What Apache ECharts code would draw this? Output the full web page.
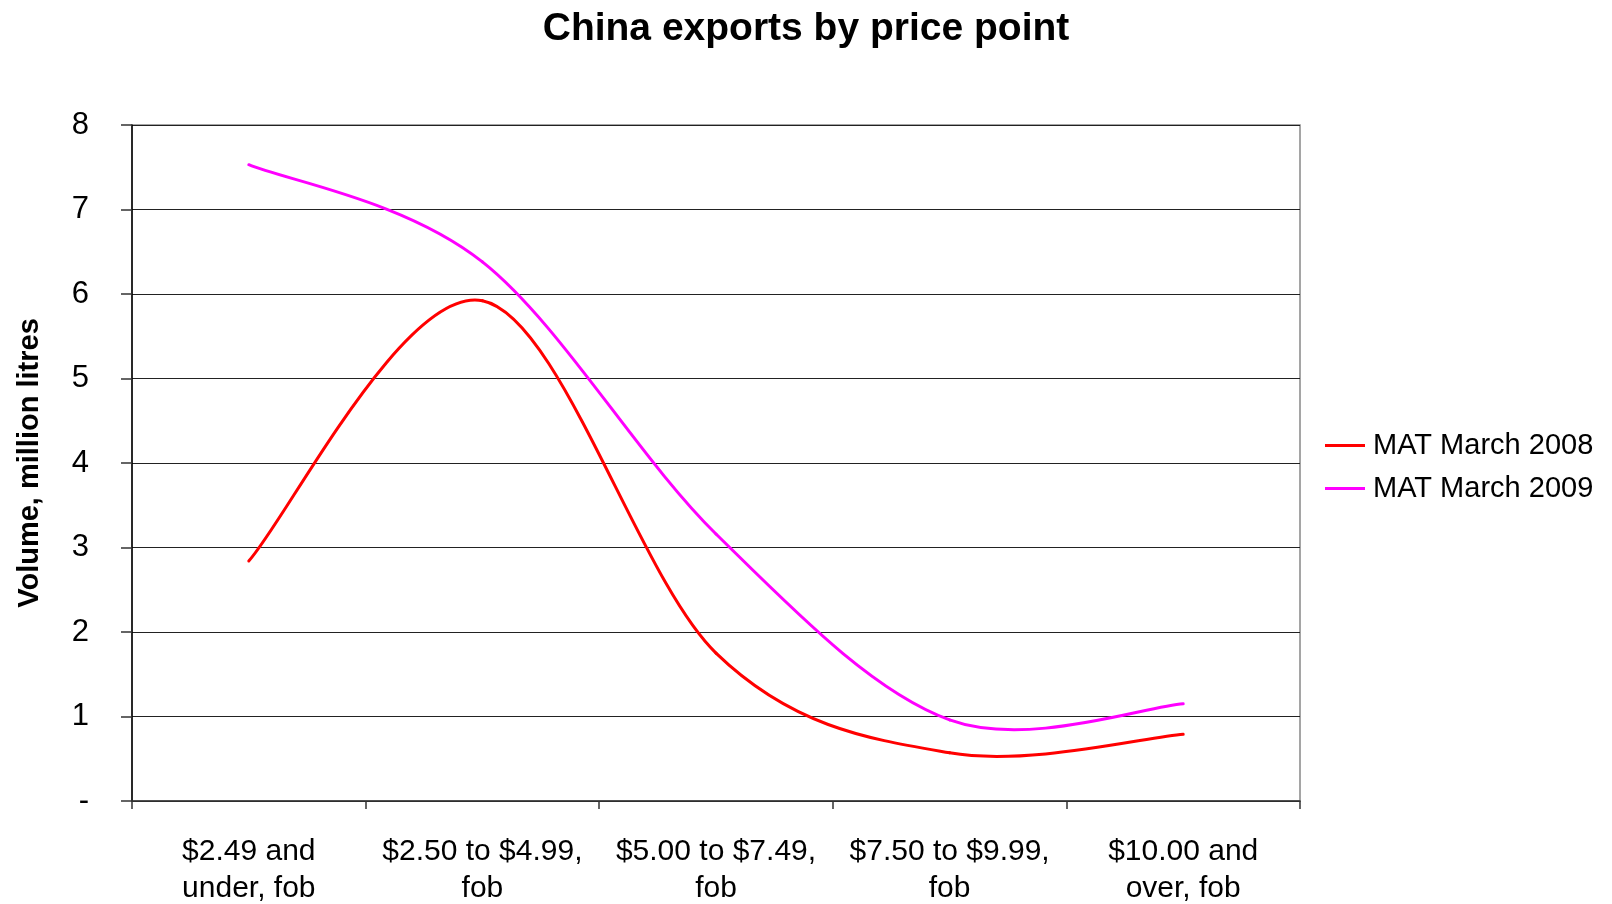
<!DOCTYPE html>
<html>
<head>
<meta charset="utf-8">
<title>China exports by price point</title>
<script src="https://cdn.jsdelivr.net/npm/echarts@6/dist/echarts.min.js"></script>
<style>
  html, body { margin: 0; padding: 0; background: #fff; }
  #chart { width: 1612px; height: 904px; }
</style>
</head>
<body>
<div id="chart"></div>
<script>
// Price bands (fob) on the category axis
const categories = [
  '$2.49 and\nunder, fob',
  '$2.50 to $4.99,\nfob',
  '$5.00 to $7.49,\nfob',
  '$7.50 to $9.99,\nfob',
  '$10.00 and\nover, fob'
];

// Export volume, million litres
const mat2008 = [2.84, 5.92, 1.75, 0.57, 0.79];
const mat2009 = [7.53, 6.38, 3.16, 0.96, 1.15];

const seriesNames = ['MAT March 2008', 'MAT March 2009'];
const seriesColors = ['#ff0000', '#ff00ff'];

const FONT = '"Liberation Sans", Arial, Helvetica, sans-serif';

// Smoothed line drawn as cubic Bezier segments (Catmull-Rom style tangents,
// one sixth of the neighbour span), positioned through the axis scales.
function smoothRenderer(values, color) {
  return function (params, api) {
    const i = params.dataIndex;
    const n = values.length;
    if (i >= n - 1) return null;
    const pt = k => {
      const kk = Math.max(0, Math.min(n - 1, k));
      return api.coord([kk, values[kk]]);
    };
    const p0 = pt(i - 1), p1 = pt(i), p2 = pt(i + 1), p3 = pt(i + 2);
    return {
      type: 'bezierCurve',
      shape: {
        x1: p1[0], y1: p1[1],
        x2: p2[0], y2: p2[1],
        cpx1: p1[0] + (p2[0] - p0[0]) / 6,
        cpy1: p1[1] + (p2[1] - p0[1]) / 6,
        cpx2: p2[0] - (p3[0] - p1[0]) / 6,
        cpy2: p2[1] - (p3[1] - p1[1]) / 6
      },
      style: { stroke: color, lineWidth: 3, fill: null, lineCap: 'round' },
      silent: true
    };
  };
}

function makeSeries(name, values, color) {
  return {
    name: name,
    type: 'custom',
    data: values.map((v, i) => [i, v]),
    encode: { x: 0, y: 1 },
    itemStyle: { color: color },
    renderItem: smoothRenderer(values, color)
  };
}

const chart = echarts.init(document.getElementById('chart'), null, { renderer: 'canvas' });

chart.setOption({
  animation: false,
  backgroundColor: '#ffffff',
  title: {
    text: 'China exports by price point',
    left: 'center',
    top: 5,
    textStyle: { fontFamily: FONT, fontSize: 39, fontWeight: 'bold', color: '#000' }
  },
  legend: {
    orient: 'vertical',
    left: 1325,
    top: 431,
    padding: 0,
    itemWidth: 40,
    itemHeight: 3,
    itemGap: 14,
    icon: 'rect',
    textStyle: { fontFamily: FONT, fontSize: 29, color: '#000', padding: [0, 0, 0, 3] },
    data: seriesNames.map((s, k) => ({ name: s, itemStyle: { color: seriesColors[k] } }))
  },
  grid: {
    left: 132,
    right: 312,
    top: 125,
    bottom: 103,
    show: true,
    borderColor: '#888',
    borderWidth: 1.5,
    containLabel: false,
    outerBoundsMode: 'none'
  },
  xAxis: {
    type: 'category',
    data: categories,
    boundaryGap: true,
    axisLine: { show: true, lineStyle: { color: '#333', width: 1.5 } },
    axisTick: { show: true, interval: 0, length: 8, lineStyle: { color: '#333', width: 1.5 } },
    axisLabel: {
      interval: 0,
      margin: 32,
      fontFamily: FONT,
      fontSize: 30,
      color: '#000',
      lineHeight: 37,
      align: 'center'
    },
    splitLine: { show: false }
  },
  yAxis: {
    type: 'value',
    min: 0,
    max: 8,
    interval: 1,
    name: 'Volume, million litres',
    nameLocation: 'middle',
    nameGap: 88,
    nameRotate: 90,
    nameTextStyle: { fontFamily: FONT, fontSize: 29, fontWeight: 'bold', color: '#000' },
    axisLine: { show: true, lineStyle: { color: '#000', width: 1.5 } },
    axisTick: { show: true, length: 11, lineStyle: { color: '#333', width: 1.5 } },
    axisLabel: {
      margin: 43,
      fontFamily: FONT,
      fontSize: 31,
      color: '#000',
      padding: [5, 0, 0, 0],
      formatter: v => (v === 0 ? '-' : String(v))
    },
    splitLine: { show: true, lineStyle: { color: '#222', width: 1.2 } }
  },
  series: [
    makeSeries(seriesNames[0], mat2008, seriesColors[0]),
    makeSeries(seriesNames[1], mat2009, seriesColors[1])
  ]
});
</script>
</body>
</html>
